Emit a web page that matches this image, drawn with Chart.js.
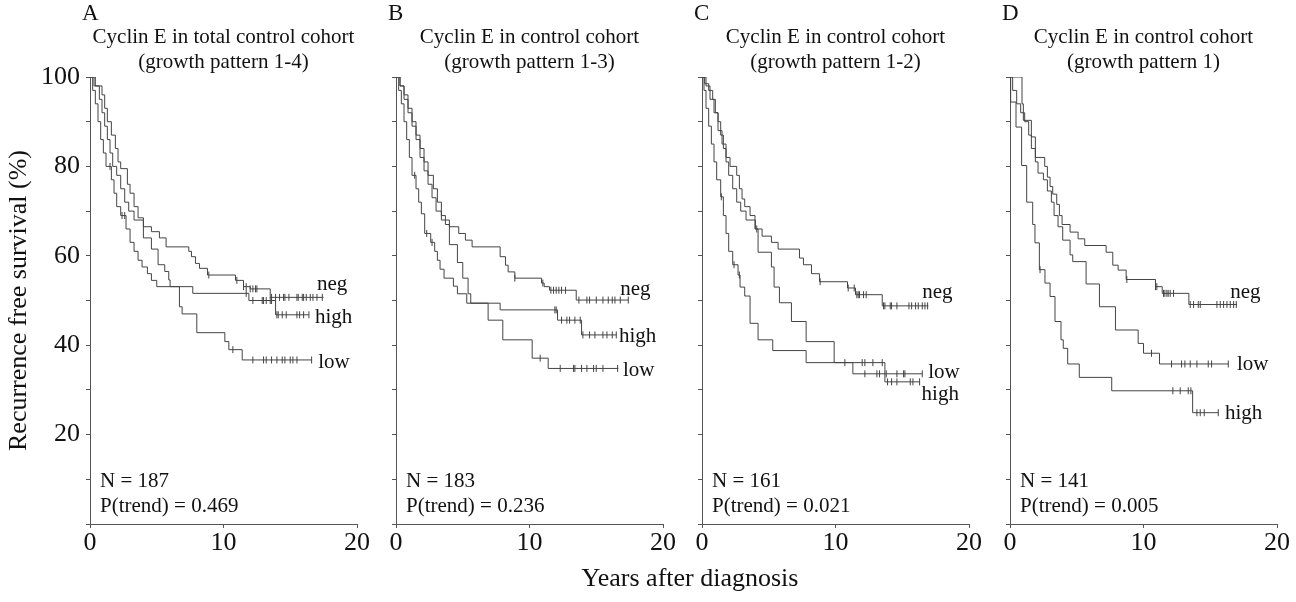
<!DOCTYPE html>
<html>
<head>
<meta charset="utf-8">
<script src="https://cdn.jsdelivr.net/npm/chart.js@4.4.1/dist/chart.umd.min.js"></script>
<style>
  body { margin: 0; background: #fff; }
  #wrap { position: relative; width: 1296px; height: 602px; overflow: hidden; background: #fff; }
  #wrap canvas { position: absolute; top: 0; }
  #xtitle {
    position: absolute; left: 690px; top: 578px; transform: translate(-50%, -50%);
    font-family: "Liberation Serif", "Times New Roman", serif; font-size: 26px; color: #111; white-space: nowrap;
  }
</style>
</head>
<body>
<div id="wrap">
  <canvas id="c0"></canvas>
  <canvas id="c1"></canvas>
  <canvas id="c2"></canvas>
  <canvas id="c3"></canvas>
  <div id="xtitle">Years after diagnosis</div>
</div>
<script>
// panel texts
const panelLetters = ['A', 'B', 'C', 'D'];
const panelTitles = [
  ['Cyclin E in total control cohort', '(growth pattern 1-4)'],
  ['Cyclin E in control cohort', '(growth pattern 1-3)'],
  ['Cyclin E in control cohort', '(growth pattern 1-2)'],
  ['Cyclin E in control cohort', '(growth pattern 1)']
];
const panelN = [187, 183, 161, 141];
const panelP = ['0.469', '0.236', '0.021', '0.005'];
const groups = ['neg', 'low', 'high'];

// Kaplan-Meier steps: [years, % recurrence free]
const negA = [[0,100],[0.3,98],[0.9,96],[1.1,93],[1.3,90],[1.6,87],[1.9,84],[2.1,81],[2.3,79.5],[2.8,76],[3.0,74],[3.3,71],[3.6,68.5],[4.0,66.5],[4.6,65.4],[5.2,64],[5.7,62],[7.4,61],[7.6,59.8],[7.9,58.3],[8.2,57.2],[8.8,55.7],[10.9,54.5],[11.5,53.1],[12.0,52.6],[13.5,50.7],[17.5,50.7]];
const lowA = [[0,100],[0.4,98],[0.7,95],[0.9,92],[1.1,89],[1.3,86],[1.5,83],[1.7,80],[2.0,78],[2.3,75],[2.6,72],[2.9,70],[3.3,68],[4.0,64],[4.6,61.5],[5.1,58],[5.6,56.5],[5.9,54.6],[6.0,53.1],[6.7,48.6],[6.9,47],[8.0,42.8],[10.1,40.8],[10.4,39],[11.4,36.7],[16.6,36.7]];
const highA = [[0,100],[0.2,97],[0.4,94],[0.6,90],[0.8,86],[1.0,83],[1.2,80],[1.6,77],[1.8,74],[2.0,71],[2.3,69],[2.7,66],[3.0,63],[3.3,61],[3.6,59],[3.9,57.5],[4.3,56],[4.6,54.5],[5.0,53.1],[7.7,51.6],[11.9,50.0],[13.9,46.8],[16.4,46.8]];

const negB = [[0,100],[0.3,98],[0.6,95],[0.9,92],[1.2,89],[1.5,86],[1.8,82],[2.1,79],[2.4,76],[2.7,73],[3.0,70],[3.4,68],[4.0,66.5],[4.7,65],[5.2,63.5],[5.7,62],[7.8,59.8],[8.2,57.9],[8.4,56.4],[8.9,55],[10.9,53.9],[11.1,53.1],[11.5,52.3],[13.5,50.1],[17.4,50.1]];
const lowB = [[0,100],[0.3,98],[0.6,96],[0.9,93],[1.2,90],[1.5,87],[1.8,84],[2.1,81],[2.4,78],[2.8,75],[3.1,72],[3.4,69],[3.7,67],[4.0,62.5],[4.6,58.5],[5.0,55],[5.4,51.5],[5.6,49.4],[6.9,45.6],[8.0,41.2],[10.2,37.1],[11.4,34.8],[16.65,34.8]];
const highB = [[0,100],[0.2,97],[0.4,94],[0.6,90],[0.8,86],[1.0,82],[1.2,78],[1.5,75],[1.7,72],[1.9,69.4],[2.15,65],[2.6,63],[2.9,61],[3.1,59],[3.3,57],[3.6,55],[4.3,53.2],[4.6,51.5],[5.3,49.4],[7.8,47.9],[12.1,45.6],[13.9,42.3],[16.5,42.3]];

const negC = [[0,100],[0.2,98.5],[0.5,97],[0.8,95],[1.0,92],[1.2,90],[1.4,87],[1.6,84],[1.8,81],[2.0,78],[2.3,75],[2.6,72],[2.9,70],[3.3,68],[4.0,66],[4.5,64.4],[5.2,63],[5.7,61.5],[7.3,59.5],[7.6,58],[8.2,56],[8.8,54.2],[10.9,52.8],[11.5,51.3],[13.5,48.8],[16.95,48.8]];
const lowC = [[0,100],[0.3,98],[0.6,95],[0.9,92],[1.2,88],[1.5,85],[1.8,82],[2.1,80],[2.6,78],[2.8,75],[3.0,72.7],[3.2,71],[3.6,69],[3.97,66],[4.2,60.8],[5.2,57.5],[5.4,53],[5.8,49.5],[6.7,45.3],[7.8,40.8],[9.9,36.1],[11.3,33.6],[16.5,33.6]];
const highC = [[0,100],[0.15,97],[0.3,93],[0.5,89],[0.7,85],[0.9,81],[1.1,77],[1.4,73.2],[1.6,69],[1.8,65],[2.0,61],[2.3,58],[2.7,55.7],[2.85,53],[3.2,51],[3.6,44.9],[4.2,41.2],[5.3,38.8],[7.8,36.1],[13.7,31.8],[16.3,31.8]];

const negD = [[0,100],[0.9,94],[1.0,90.3],[1.6,86.6],[1.9,82],[2.6,80],[2.8,77.6],[3.0,75.5],[3.2,73.8],[3.5,71.5],[3.7,69],[3.9,67],[4.5,65.3],[5.1,63.8],[5.6,62.3],[7.2,60.8],[7.7,57.9],[8.1,56.8],[8.7,54.7],[10.9,53.1],[11.4,51.6],[13.4,49.1],[17.0,49.1]];
const lowD = [[0,100],[0.2,97],[0.5,94],[0.8,92],[1.1,90],[1.4,87],[1.6,84],[1.9,81],[2.1,78.5],[2.5,77],[2.8,74.5],[3.1,72],[3.3,69],[3.6,66.5],[3.95,63.5],[4.5,60.2],[4.7,58.7],[5.7,53.7],[6.7,48.6],[7.9,43.4],[9.6,40.4],[10.0,38.2],[11.2,35.8],[16.35,35.8]];
const highD = [[0,100],[0.05,94.4],[0.45,88.8],[0.87,80.2],[1.25,72],[1.7,67],[1.87,62.9],[2.2,56.9],[2.62,53.9],[3.0,50.9],[3.37,45.3],[3.82,41.2],[3.99,39.3],[4.32,35.8],[5.19,32.8],[7.62,29.8],[13.68,24.9],[15.6,24.9]];

// censored times (years)
const censNegA = [8.9, 11.0, 11.5, 11.7, 12.0, 12.2, 12.4, 12.5, 13.6, 13.9, 14.2, 14.5, 14.6, 14.9, 15.5, 15.6, 15.9, 16.0, 16.2, 16.5, 16.7, 17.0, 17.4];
const censLowA = [10.7, 12.2, 13.0, 13.2, 13.6, 14.0, 14.4, 14.6, 15.0, 15.2, 15.5, 16.6];
const censHighA = [1.5, 2.4, 2.6, 11.7, 12.2, 12.9, 13.0, 13.2, 13.5, 13.6, 14.0, 14.1, 14.4, 14.7, 15.5, 15.7, 16.0, 16.4];
const censNegB = [8.9, 11.0, 11.6, 11.8, 12.0, 12.2, 12.4, 12.7, 13.7, 14.3, 14.5, 15.0, 15.5, 15.9, 16.2, 16.4, 16.8, 17.4];
const censLowB = [10.8, 12.3, 13.3, 13.4, 13.9, 14.3, 14.8, 15.0, 15.5, 16.6];
const censHighB = [1.4, 2.3, 2.7, 11.9, 12.0, 12.4, 12.8, 13.0, 13.4, 13.8, 14.0, 14.5, 14.9, 15.5, 15.8, 16.2, 16.5];
const censNegC = [4.1, 8.85, 10.95, 11.4, 11.6, 11.7, 11.8, 12.1, 12.3, 13.6, 13.7, 14.1, 14.2, 14.6, 15.5, 15.7, 16.0, 16.2, 16.5, 16.7, 16.9];
const censLowC = [10.7, 12.2, 13.1, 13.3, 13.8, 14.6, 15.1, 15.2, 16.5];
const censHighC = [1.45, 2.4, 2.8, 12.0, 12.2, 12.8, 13.5, 13.9, 14.2, 14.6, 15.6, 15.8, 16.3];
const censNegD = [8.75, 10.9, 11.0, 11.5, 11.6, 11.75, 11.85, 12.0, 12.25, 13.5, 13.75, 14.1, 14.25, 15.5, 15.75, 16.0, 16.25, 16.5, 16.75, 16.95];
const censLowD = [10.6, 12.1, 12.85, 13.1, 13.5, 14.0, 14.85, 15.1, 16.35];
const censHighD = [2.25, 12.2, 12.75, 13.35, 13.55, 14.0, 14.25, 14.55, 15.6];

const curves = [[negA, lowA, highA], [negB, lowB, highB], [negC, lowC, highC], [negD, lowD, highD]];
const censored = [[censNegA, censLowA, censHighA], [censNegB, censLowB, censHighB], [censNegC, censLowC, censHighC], [censNegD, censLowD, censHighD]];

// where the group names sit (data units, left edge / baseline), order as groups
const labelXs = [[17.0, 17.1, 16.85], [16.8, 17.0, 16.7], [16.5, 16.95, 16.45], [16.5, 17.0, 16.1]];
const labelYs = [[52.3, 34.8, 44.9], [51.2, 33.0, 40.8], [50.5, 32.6, 27.7], [50.5, 34.5, 23.6]];

const serif = '"Liberation Serif", "Times New Roman", serif';
const ink = '#111';
const lineCol = '#444';
const axisCol = '#555';
const panelLeft = [90, 396, 702, 1010];
const plotW = 267;

function survAt(steps, t) {
  let s = steps[0][1];
  steps.forEach(p => { if (p[0] <= t) s = p[1]; });
  return s;
}

const panelText = {
  id: 'panelText',
  afterDraw(chart, args, o) {
    const { ctx, chartArea: a, scales } = chart;
    ctx.save();
    ctx.fillStyle = ink;
    ctx.textBaseline = 'alphabetic';
    ctx.textAlign = 'left';
    ctx.font = '23px ' + serif;
    ctx.fillText(o.letter, a.left - 8, 20);
    ctx.font = '21px ' + serif;
    ctx.textAlign = 'center';
    const cx = (a.left + a.right) / 2;
    ctx.fillText(o.title[0], cx, 43);
    ctx.fillText(o.title[1], cx, 68);
    ctx.textAlign = 'left';
    ctx.fillText('N = ' + o.n, a.left + 10, a.bottom - 37);
    ctx.fillText('P(trend) = ' + o.p, a.left + 10, a.bottom - 12);
    groups.forEach((g, k) => {
      ctx.fillText(g, scales.x.getPixelForValue(o.lx[k]), scales.y.getPixelForValue(o.ly[k]));
    });
    ctx.restore();
  }
};

panelLetters.forEach((letter, i) => {
  const canvas = document.getElementById('c' + i);
  const yw = i === 0 ? 90 : 30;
  const padR = 25;
  canvas.width = yw + plotW + padR;
  canvas.height = 602;
  canvas.style.left = (panelLeft[i] - yw) + 'px';

  const datasets = [];
  curves[i].forEach((steps, k) => {
    datasets.push({
      type: 'line',
      label: groups[k],
      data: steps.map(p => ({ x: p[0], y: p[1] })),
      stepped: true,
      borderColor: lineCol,
      borderWidth: 1,
      pointRadius: 0,
      fill: false
    });
    datasets.push({
      type: 'scatter',
      label: groups[k] + ' censored',
      data: censored[i][k].map(t => ({ x: t, y: survAt(steps, t) })),
      pointStyle: 'line',
      rotation: 90,
      radius: 3.5,
      borderColor: lineCol,
      borderWidth: 1,
      backgroundColor: lineCol
    });
  });

  new Chart(canvas, {
    type: 'line',
    data: { datasets },
    options: {
      responsive: false,
      animation: false,
      events: [],
      layout: { padding: { top: 77, right: padR, left: 0, bottom: 0 } },
      plugins: {
        legend: { display: false },
        tooltip: { enabled: false },
        panelText: { letter, title: panelTitles[i], n: panelN[i], p: panelP[i], lx: labelXs[i], ly: labelYs[i] }
      },
      scales: {
        x: {
          type: 'linear', min: 0, max: 20,
          afterFit: s => { s.height = 78; },
          ticks: { stepSize: 10, maxRotation: 0, autoSkip: false, padding: 0, color: ink, font: { family: serif, size: 26 } },
          grid: { drawOnChartArea: false, tickLength: 4, color: axisCol },
          border: { color: axisCol, width: 1 }
        },
        y: {
          min: 0, max: 100,
          afterFit: s => { s.width = yw; },
          ticks: {
            stepSize: 10, padding: 6, color: ink, font: { family: serif, size: 26 },
            callback: v => (i === 0 && v > 0 && v % 20 === 0) ? String(v) : ''
          },
          grid: { drawOnChartArea: false, tickLength: 4, color: axisCol },
          border: { color: axisCol, width: 1 },
          title: {
            display: i === 0, text: 'Recurrence free survival (%)', color: ink,
            font: { family: serif, size: 26 }, padding: { top: 4, bottom: 0 }
          }
        }
      }
    },
    plugins: [panelText]
  });
});
</script>
</body>
</html>
